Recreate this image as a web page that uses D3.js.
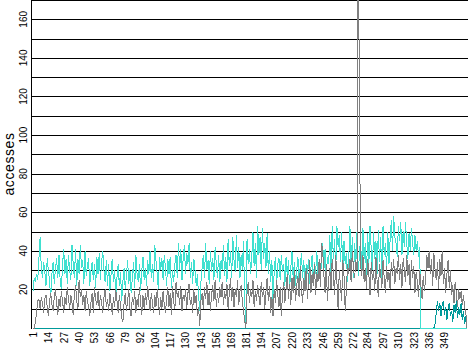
<!DOCTYPE html>
<html>
<head>
<meta charset="utf-8">
<script src="https://cdn.jsdelivr.net/npm/d3@7"></script>
<style>
html,body{margin:0;padding:0;background:#fff;}
svg{display:block;}
text{font-family:"Liberation Sans",Arial,sans-serif;fill:#000;}
</style>
</head>
<body>
<svg id="chart" width="468" height="351"></svg>
<script>
// ---- data ----
const yLabel = "accesses";
const xTickLabels = [1,14,27,40,53,66,79,92,104,117,130,143,156,169,181,194,207,220,233,246,259,272,284,297,310,323,336,349];
const yTickLabels = [20,40,60,80,100,120,140,160];
const gridValues = [10,20,30,40,50,60,70,80,90,100,110,120,130,140,150,160,170];

const cyanSeries = [
19,26,24,28,25,36,47,31,26,34,29,22,36,30,24,16,
28,34,23,31,36,26,38,24,20,33,41,28,36,23,38,30,
25,43,33,26,41,22,36,28,43,31,35,23,40,27,32,36,
22,30,34,25,33,21,37,28,39,25,34,40,30,24,35,22,
33,19,28,36,24,30,17,26,33,22,29,14,24,31,20,27,
35,23,30,18,26,34,21,38,28,24,33,19,30,37,25,31,
22,35,28,40,26,33,24,43,35,28,20,37,30,36,25,38,
31,22,36,28,37,21,30,24,33,38,26,44,30,41,25,36,
43,28,39,33,44,26,34,23,36,30,22,28,17,9,24,31,
38,26,44,30,35,23,40,29,36,25,42,33,26,38,24,35,
30,43,27,37,24,46,32,40,26,47,35,29,48,31,42,26,
38,30,45,15,0,46,33,41,28,37,50,32,44,26,53,38,
47,30,52,36,44,31,49,28,40,24,35,14,30,37,22,33,
36,25,38,29,33,22,37,27,35,20,31,40,26,34,22,30,
37,24,32,39,26,35,21,33,28,36,23,31,38,25,34,28,
40,26,33,22,38,44,30,41,26,37,33,48,28,53,36,46,
30,53,42,48,34,50,28,45,33,39,24,36,53,30,47,26,
44,33,50,27,38,46,30,52,36,44,27,49,33,53,41,30,
50,36,45,28,51,34,47,26,53,38,44,30,50,33,46,56,
40,58,47,44,37,53,45,55,38,50,42,55,44,36,49,40,
52,44,38,48,40,45,37,42,0,0,0,0,0,0,0,0,
0,0,0,0,0,0,0,0,0,0,0,0,0,0,0,0,
0,0,0,0,0,0,0,0,0,0,0,0,0,0,0,0
];

const graySeries = [
0,0,3,8,14,15,10,16,13,8,15,17,11,6,14,18,
12,9,16,20,13,7,15,11,19,14,8,16,12,21,15,10,
17,13,7,18,22,14,10,25,16,20,12,17,9,19,14,11,
6,13,18,8,21,15,12,19,10,17,13,8,16,20,11,15,
9,18,13,7,16,11,20,14,8,17,12,5,3,13,18,9,
14,20,10,6,16,12,19,8,15,11,21,13,7,17,10,18,
12,22,15,9,18,13,8,17,11,20,14,7,16,10,19,12,
8,15,21,11,18,7,22,13,10,24,16,19,12,22,9,17,
14,20,10,18,23,12,16,8,20,13,17,6,11,1,14,18,
10,21,15,24,12,19,9,17,22,14,25,11,18,13,21,16,
24,12,19,15,23,10,18,26,14,21,11,20,16,25,12,19,
22,14,9,4,0,18,24,13,20,16,25,11,19,14,22,17,
12,24,16,21,10,19,26,14,22,8,16,6,20,13,25,17,
11,21,6,18,24,13,20,28,15,23,12,26,18,30,14,22,
27,16,32,20,13,26,19,31,15,24,35,18,28,22,33,17,
29,24,36,21,44,40,27,18,33,14,25,31,20,36,28,17,
38,24,10,30,22,14,35,27,9,20,33,28,36,24,40,31,
26,35,30,210,122,33,27,38,24,31,20,36,28,17,34,25,
30,19,37,24,16,33,28,21,35,26,18,32,24,29,20,34,
27,36,23,31,28,38,25,33,21,36,30,24,38,27,33,20,
35,26,32,18,29,24,16,30,22,15,27,19,26,38,31,40,
28,36,22,39,30,25,34,20,36,27,40,23,31,18,28,35,
21,30,17,22,13,24,18,11,20,15,19,12,17,11,8,0
];

const tealSeries = [
0,0,0,0,0,0,0,0,0,0,0,0,0,0,0,0,
0,0,0,0,0,0,0,0,0,0,0,0,0,0,0,0,
0,0,0,0,0,0,0,0,0,0,0,0,0,0,0,0,
0,0,0,0,0,0,0,0,0,0,0,0,0,0,0,0,
0,0,0,0,0,0,0,0,0,0,0,0,0,0,0,0,
0,0,0,0,0,0,0,0,0,0,0,0,0,0,0,0,
0,0,0,0,0,0,0,0,0,0,0,0,0,0,0,0,
0,0,0,0,0,0,0,0,0,0,0,0,0,0,0,0,
0,0,0,0,0,0,0,0,0,0,0,0,0,0,0,0,
0,0,0,0,0,0,0,0,0,0,0,0,0,0,0,0,
0,0,0,0,0,0,0,0,0,0,0,0,0,0,0,0,
0,0,0,0,0,0,0,0,0,0,0,0,0,0,0,0,
0,0,0,0,0,0,0,0,0,0,0,0,0,0,0,0,
0,0,0,0,0,0,0,0,0,0,0,0,0,0,0,0,
0,0,0,0,0,0,0,0,0,0,0,0,0,0,0,0,
0,0,0,0,0,0,0,0,0,0,0,0,0,0,0,0,
0,0,0,0,0,0,0,0,0,0,0,0,0,0,0,0,
0,0,0,0,0,0,0,0,0,0,0,0,0,0,0,0,
0,0,0,0,0,0,0,0,0,0,0,0,0,0,0,0,
0,0,0,0,0,0,0,0,0,0,0,0,0,0,0,0,
0,0,0,0,0,0,0,0,0,0,0,0,0,0,0,0,
0,0,0,0,2,8,14,9,13,6,12,14,7,11,4,10,
13,6,9,3,12,8,14,5,11,7,13,4,9,2,6,1
];

const days = cyanSeries.map((_, i) => i + 1);

// ---- layout ----
const svg = d3.select("#chart");
const plotLeft = 33, plotRight = 467, plotTop = 0, plotBottom = 328;

const x = d3.scaleLinear().domain([1, days.length]).range([plotLeft, plotRight]);
const y = d3.scaleLinear().domain([0, 170]).range([plotBottom, plotTop]);

svg.append("defs").append("clipPath").attr("id", "clip")
  .append("rect").attr("x", 31).attr("y", 0).attr("width", 437).attr("height", 330);

// gridlines
svg.append("g").selectAll("line").data(gridValues).join("line")
  .attr("x1", 32).attr("x2", 468)
  .attr("y1", d => Math.round(y(d)) + 0.5)
  .attr("y2", d => Math.round(y(d)) + 0.5)
  .attr("stroke", "#000").attr("stroke-width", 1)
  .attr("shape-rendering", "crispEdges");

// left axis line
svg.append("line").attr("x1", 31.5).attr("x2", 31.5).attr("y1", 0).attr("y2", 329)
  .attr("stroke", "#000").attr("shape-rendering", "crispEdges");

const line = d3.line().x((d, i) => x(days[i])).y(d => y(d));
const g = svg.append("g").attr("clip-path", "url(#clip)");
[[tealSeries, "#009a9a"], [cyanSeries, "#40e0d0"], [graySeries, "#808080"]].forEach(([s, c]) => {
  g.append("path").datum(s).attr("d", line)
    .attr("fill", "none").attr("stroke", c).attr("stroke-width", 1)
    .attr("shape-rendering", "crispEdges");
});

// y tick labels
svg.append("g").selectAll("text").data(yTickLabels).join("text")
  .attr("transform", d => `translate(27,${y(d)}) rotate(-90)`)
  .attr("text-anchor", "middle")
  .style("font-size", "10px")
  .text(d => d);

// x tick labels
svg.append("g").selectAll("text").data(xTickLabels).join("text")
  .attr("transform", d => `translate(${x(d) + 3.8},332) rotate(-90)`)
  .attr("text-anchor", "end")
  .style("font-size", "10px")
  .text(d => d);

// y axis title
svg.append("text")
  .attr("transform", `translate(14,164) rotate(-90)`)
  .attr("text-anchor", "middle")
  .style("font-size", "14px")
  .style("letter-spacing", "0.6px")
  .text(yLabel);
</script>
</body>
</html>
